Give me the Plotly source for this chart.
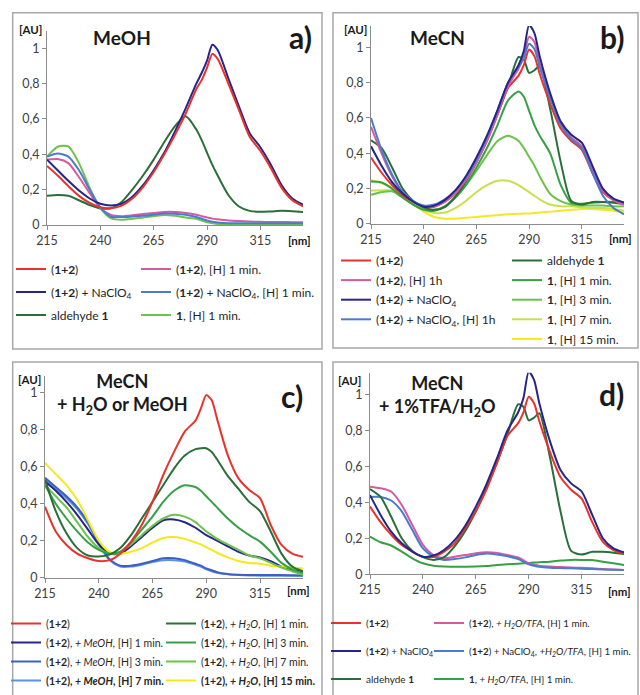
import plotly.graph_objects as go

# ---------------- data ----------------
wavelength = [215, 220, 225, 230, 235, 240, 245, 250, 255, 260, 265, 270, 275, 280,
              285, 287.5, 290, 292.5, 295, 300, 305, 310, 315, 320, 325, 330, 335]
x_ticks = [215, 240, 265, 290, 315]
y_ticks = [0, 0.2, 0.4, 0.6, 0.8, 1]
y_ticktext = ["0", "0,2", "0,4", "0,6", "0,8", "1"]

# panel a) MeOH
a_12 = [0.334, 0.28, 0.22, 0.165, 0.125, 0.1, 0.095, 0.11, 0.15, 0.215, 0.3, 0.4, 0.51, 0.63,
        0.77, 0.82, 0.89, 0.968, 0.94, 0.8, 0.65, 0.5, 0.42, 0.32, 0.21, 0.14, 0.105]
a_12_H = [0.37, 0.373, 0.35, 0.27, 0.18, 0.095, 0.057, 0.05, 0.055, 0.062, 0.068, 0.074, 0.074, 0.068,
          0.058, 0.05, 0.043, 0.036, 0.032, 0.025, 0.022, 0.02, 0.018, 0.017, 0.017, 0.016, 0.016]
a_12_Na = [0.37, 0.31, 0.25, 0.195, 0.15, 0.12, 0.11, 0.12, 0.16, 0.225, 0.31, 0.41, 0.53, 0.66,
           0.8, 0.86, 0.93, 1.02, 0.99, 0.83, 0.67, 0.52, 0.44, 0.34, 0.225, 0.15, 0.115]
a_12_Na_H = [0.387, 0.405, 0.387, 0.31, 0.2, 0.1, 0.047, 0.045, 0.048, 0.052, 0.058, 0.065, 0.064, 0.058,
             0.045, 0.035, 0.025, 0.018, 0.014, 0.01, 0.01, 0.01, 0.01, 0.01, 0.01, 0.01, 0.01]
a_ald = [0.165, 0.17, 0.165, 0.14, 0.113, 0.094, 0.095, 0.13, 0.2, 0.28, 0.37, 0.47, 0.56, 0.615,
         0.54, 0.48, 0.41, 0.34, 0.28, 0.17, 0.105, 0.08, 0.075, 0.077, 0.08, 0.078, 0.074]
a_ald_H = [0.387, 0.443, 0.445, 0.35, 0.21, 0.095, 0.038, 0.03, 0.035, 0.043, 0.05, 0.057, 0.052, 0.042,
           0.035, 0.025, 0.015, 0.01, 0.006, 0.005, 0.005, 0.005, 0.005, 0.005, 0.005, 0.005, 0.005]

# MeCN reference spectra (panels b and d)
mecn_12 = [0.376, 0.29, 0.22, 0.163, 0.126, 0.098, 0.098, 0.126, 0.172, 0.255, 0.35, 0.47, 0.62, 0.77,
           0.84, 0.9, 0.987, 0.95, 0.85, 0.68, 0.54, 0.47, 0.42, 0.29, 0.18, 0.135, 0.117]
mecn_12_Na = [0.44, 0.33, 0.237, 0.172, 0.126, 0.098, 0.104, 0.135, 0.19, 0.27, 0.376, 0.5, 0.645, 0.8,
              0.9, 0.98, 1.126, 1.08, 0.95, 0.74, 0.58, 0.505, 0.46, 0.33, 0.2, 0.144, 0.122]
mecn_ald = [0.474, 0.43, 0.32, 0.2, 0.13, 0.095, 0.08, 0.095, 0.155, 0.24, 0.35, 0.48, 0.62, 0.78,
            0.945, 0.93, 0.855, 0.87, 0.895, 0.65, 0.35, 0.13, 0.11, 0.125, 0.125, 0.12, 0.113]

# panel b) MeCN
b_12_H1h = [0.55, 0.4, 0.27, 0.18, 0.13, 0.1, 0.1, 0.125, 0.175, 0.25, 0.35, 0.47, 0.62, 0.78,
            0.88, 0.95, 1.06, 1.03, 0.91, 0.72, 0.57, 0.49, 0.44, 0.31, 0.19, 0.135, 0.11]
b_12_Na_H1h = [0.6, 0.42, 0.28, 0.18, 0.13, 0.105, 0.11, 0.14, 0.19, 0.265, 0.365, 0.49, 0.64, 0.8,
               0.89, 0.94, 1.02, 0.99, 0.89, 0.71, 0.56, 0.48, 0.43, 0.29, 0.16, 0.09, 0.055]
b_1_H1 = [0.24, 0.235, 0.2, 0.15, 0.11, 0.08, 0.075, 0.1, 0.15, 0.22, 0.32, 0.43, 0.56, 0.7,
          0.75, 0.72, 0.64, 0.56, 0.5, 0.4, 0.22, 0.12, 0.115, 0.12, 0.125, 0.125, 0.12]
b_1_H3 = [0.165, 0.18, 0.185, 0.15, 0.11, 0.085, 0.08, 0.1, 0.15, 0.22, 0.3, 0.39, 0.47, 0.5,
          0.47, 0.43, 0.38, 0.33, 0.27, 0.17, 0.13, 0.11, 0.105, 0.105, 0.105, 0.1, 0.1]
b_1_H7 = [0.19, 0.19, 0.19, 0.155, 0.11, 0.08, 0.062, 0.065, 0.09, 0.13, 0.18, 0.22, 0.245, 0.245,
          0.22, 0.2, 0.18, 0.16, 0.14, 0.11, 0.1, 0.1, 0.095, 0.09, 0.09, 0.085, 0.075]
b_1_H15 = [0.25, 0.23, 0.21, 0.18, 0.12, 0.07, 0.04, 0.03, 0.03, 0.035, 0.04, 0.045, 0.05, 0.055,
           0.058, 0.059, 0.06, 0.062, 0.065, 0.07, 0.075, 0.08, 0.085, 0.085, 0.08, 0.075, 0.065]

# panel c) MeCN + H2O or MeOH
c_12 = [0.384, 0.25, 0.177, 0.13, 0.105, 0.09, 0.095, 0.13, 0.195, 0.285, 0.41, 0.555, 0.68, 0.79,
        0.85, 0.915, 0.987, 0.96, 0.86, 0.663, 0.537, 0.474, 0.43, 0.285, 0.177, 0.13, 0.113]
c_MeOH_1 = [0.52, 0.47, 0.41, 0.34, 0.26, 0.18, 0.13, 0.13, 0.17, 0.22, 0.27, 0.31, 0.315, 0.3,
            0.27, 0.25, 0.23, 0.215, 0.2, 0.17, 0.14, 0.12, 0.11, 0.09, 0.06, 0.04, 0.035]
c_MeOH_3 = [0.54, 0.49, 0.44, 0.38, 0.3, 0.19, 0.1, 0.065, 0.065, 0.075, 0.09, 0.105, 0.105, 0.095,
            0.075, 0.065, 0.05, 0.04, 0.03, 0.02, 0.016, 0.015, 0.015, 0.015, 0.015, 0.013, 0.012]
c_MeOH_7 = [0.53, 0.48, 0.43, 0.37, 0.29, 0.18, 0.095, 0.06, 0.06, 0.07, 0.085, 0.095, 0.095, 0.088,
            0.07, 0.06, 0.045, 0.035, 0.027, 0.018, 0.014, 0.012, 0.011, 0.01, 0.01, 0.01, 0.01]
c_H2O_1 = [0.53, 0.36, 0.24, 0.16, 0.12, 0.115, 0.125, 0.16, 0.23, 0.32, 0.41, 0.5, 0.59, 0.66,
           0.695, 0.7, 0.7, 0.68, 0.64, 0.55, 0.48, 0.41, 0.36, 0.25, 0.13, 0.06, 0.035]
c_H2O_3 = [0.5, 0.4, 0.32, 0.25, 0.19, 0.15, 0.13, 0.14, 0.19, 0.26, 0.33, 0.41, 0.47, 0.5,
           0.49, 0.47, 0.44, 0.41, 0.38, 0.32, 0.27, 0.23, 0.195, 0.14, 0.08, 0.045, 0.025]
c_H2O_7 = [0.5, 0.44, 0.38, 0.3, 0.22, 0.16, 0.13, 0.14, 0.18, 0.23, 0.28, 0.32, 0.34, 0.33,
           0.3, 0.275, 0.25, 0.23, 0.21, 0.18, 0.15, 0.12, 0.105, 0.08, 0.055, 0.035, 0.015]
c_H2O_15 = [0.62, 0.56, 0.5, 0.42, 0.31, 0.2, 0.14, 0.13, 0.14, 0.16, 0.19, 0.215, 0.22, 0.21,
            0.19, 0.18, 0.165, 0.15, 0.135, 0.11, 0.09, 0.08, 0.075, 0.065, 0.06, 0.055, 0.05]

# panel d) MeCN + 1%TFA/H2O
d_12_TFA = [0.487, 0.478, 0.46, 0.385, 0.274, 0.163, 0.107, 0.089, 0.098, 0.107, 0.117, 0.122, 0.119, 0.107,
            0.093, 0.078, 0.062, 0.054, 0.048, 0.043, 0.04, 0.038, 0.036, 0.033, 0.03, 0.027, 0.024]
d_12_Na_TFA = [0.43, 0.43, 0.41, 0.35, 0.246, 0.144, 0.098, 0.08, 0.085, 0.094, 0.107, 0.115, 0.11, 0.1,
               0.085, 0.07, 0.056, 0.048, 0.042, 0.037, 0.035, 0.033, 0.031, 0.029, 0.027, 0.025, 0.024]
d_1_TFA = [0.21, 0.178, 0.16, 0.126, 0.089, 0.061, 0.048, 0.043, 0.042, 0.042, 0.043, 0.046, 0.052, 0.056,
           0.059, 0.061, 0.063, 0.065, 0.067, 0.07, 0.076, 0.08, 0.08, 0.079, 0.07, 0.061, 0.052]

# ---------------- styling ----------------
FONT = "Lato"
W, H = 640, 695
RED, PINK, NAVY, BLUE = "#e8322b", "#d65aa0", "#25258a", "#4a7bcf"
MBLUE, LBLUE = "#3d5fc0", "#5b93d8"
DKGREEN, GREEN, LGREEN, YGREEN, YELLOW = "#2a6e3a", "#36a045", "#6cc24a", "#c8e04a", "#f5e81c"


def px(x):
    return x / W


def py(y):
    return 1 - y / H


fig = go.Figure()

panels = {
    "a": dict(xa="x", ya="y", xd=(47, 303), yd=(225, 1.1, 176.7)),
    "b": dict(xa="x2", ya="y2", xd=(371, 624), yd=(224, 1.12, 176.7)),
    "c": dict(xa="x3", ya="y3", xd=(45, 303), yd=(577.7, 1.09, 185.0)),
    "d": dict(xa="x4", ya="y4", xd=(370, 624), yd=(574.3, 1.12, 180.0)),
}


def add(panel, name, values, color, legend, rank):
    p = panels[panel]
    fig.add_trace(go.Scatter(
        x=wavelength, y=values, name=name, mode="lines",
        line=dict(color=color, width=2, shape="spline", smoothing=0.7),
        xaxis=p["xa"], yaxis=p["ya"], legend=legend,
        legendgroup=f"{legend}_{rank}", legendrank=rank, hoverinfo="skip"))


B12 = "(<b>1+2</b>)"
NA = "NaClO<sub>4</sub>"
H2O = "H<sub>2</sub>O"

# a
add("a", "aldehyde <b>1</b>", a_ald, DKGREEN, "legend", 3)
add("a", "<b>1</b>, [H] 1 min.", a_ald_H, LGREEN, "legend2", 3)
add("a", B12 + ", [H] 1 min.", a_12_H, PINK, "legend2", 1)
add("a", B12 + " + " + NA + ", [H] 1 min.", a_12_Na_H, BLUE, "legend2", 2)
add("a", B12 + " + " + NA, a_12_Na, NAVY, "legend", 2)
add("a", B12, a_12, RED, "legend", 1)

# b
add("b", "<b>1</b>, [H] 15 min.", b_1_H15, YELLOW, "legend4", 5)
add("b", "<b>1</b>, [H] 7 min.", b_1_H7, YGREEN, "legend4", 4)
add("b", "<b>1</b>, [H] 3 min.", b_1_H3, LGREEN, "legend4", 3)
add("b", "<b>1</b>, [H] 1 min.", b_1_H1, GREEN, "legend4", 2)
add("b", "aldehyde <b>1</b>", mecn_ald, DKGREEN, "legend4", 1)
add("b", B12, mecn_12, RED, "legend3", 1)
add("b", B12 + ", [H] 1h", b_12_H1h, PINK, "legend3", 2)
add("b", B12 + " + " + NA + ", [H] 1h", b_12_Na_H1h, BLUE, "legend3", 4)
add("b", B12 + " + " + NA, mecn_12_Na, NAVY, "legend3", 3)

# c
add("c", "<b>(1+2), <i>+ MeOH</i>, [H] 7 min.</b>", c_MeOH_7, LBLUE, "legend5", 4)
add("c", B12 + ", <i>+ MeOH</i>, [H] 3 min.", c_MeOH_3, MBLUE, "legend5", 3)
add("c", B12 + ", <i>+ MeOH</i>, [H] 1 min.", c_MeOH_1, NAVY, "legend5", 2)
add("c", "<b>(1+2), <i>+ " + H2O + "</i>, [H] 15 min.</b>", c_H2O_15, YELLOW, "legend6", 4)
add("c", B12 + ", <i>+ " + H2O + "</i>, [H] 7 min.", c_H2O_7, LGREEN, "legend6", 3)
add("c", B12 + ", <i>+ " + H2O + "</i>, [H] 3 min.", c_H2O_3, GREEN, "legend6", 2)
add("c", B12 + ", <i>+ " + H2O + "</i>, [H] 1 min.", c_H2O_1, DKGREEN, "legend6", 1)
add("c", B12, c_12, RED, "legend5", 1)

# d
add("d", "<b>1</b>, <i>+ " + H2O + "/TFA</i>, [H] 1 min.", d_1_TFA, GREEN, "legend8", 3)
add("d", B12 + ", <i>+ " + H2O + "/TFA</i>, [H] 1 min.", d_12_TFA, PINK, "legend8", 1)
add("d", B12 + " + " + NA + ", <i>+" + H2O + "/TFA</i>, [H] 1 min.", d_12_Na_TFA, BLUE, "legend8", 2)
add("d", "aldehyde <b>1</b>", mecn_ald, DKGREEN, "legend7", 3)
add("d", B12, mecn_12, RED, "legend7", 1)
add("d", B12 + " + " + NA, mecn_12_Na, NAVY, "legend7", 2)

AXC = "#8c8c8c"
TICKFONT = dict(family=FONT, size=12.5, color="#404040")
layout = dict(
    width=W, height=H, margin=dict(l=0, r=0, t=0, b=0, autoexpand=False),
    paper_bgcolor="white", plot_bgcolor="rgba(0,0,0,0)",
    font=dict(family=FONT, size=12, color="#262626"),
    showlegend=True,
)

for i, key in enumerate(["a", "b", "c", "d"]):
    p = panels[key]
    sfx = "" if i == 0 else str(i + 1)
    x0, x1 = p["xd"]
    ybot, ymax, scale = p["yd"]
    ytop = ybot - ymax * scale
    layout["xaxis" + sfx] = dict(
        domain=[px(x0), px(x1)], range=[215, 335], anchor="y" + sfx,
        tickvals=x_ticks, ticks="outside", ticklen=4, tickcolor=AXC,
        showline=True, linecolor=AXC, linewidth=1, showgrid=False, zeroline=False,
        tickfont=TICKFONT, fixedrange=True, automargin=False)
    layout["yaxis" + sfx] = dict(
        domain=[py(ybot), py(ytop)], range=[0, ymax], anchor="x" + sfx,
        tickvals=y_ticks, ticktext=y_ticktext, ticks="outside", ticklen=4, tickcolor=AXC,
        showline=True, linecolor=AXC, linewidth=1, showgrid=False, zeroline=False,
        tickfont=TICKFONT, fixedrange=True, automargin=False)


def leg(x, y, size, gap):
    return dict(x=px(x), y=py(y), xanchor="left", yanchor="top", bgcolor="rgba(0,0,0,0)",
                font=dict(family=FONT, size=size, color="#262626"),
                traceorder="grouped", tracegroupgap=gap, borderwidth=0)


layout["legend"] = leg(11, 254.5, 12, 4)
layout["legend2"] = leg(136, 254.5, 12, 4)
layout["legend3"] = leg(336, 246, 12, 0.6)
layout["legend4"] = leg(507, 246, 12, 0.6)
layout["legend5"] = leg(6, 609, 10.5, 0)
layout["legend6"] = leg(161, 609, 10.5, 0)
layout["legend7"] = leg(326, 608.5, 10, 9)
layout["legend8"] = leg(429, 608.5, 9.8, 9)

fig.update_layout(**layout)

# panel frames
boxes = [(12.7, 12.7, 322, 349), (333, 12.7, 638, 348), (12.7, 362, 322, 699), (333, 362, 638, 699)]
for bx0, by0, bx1, by1 in boxes:
    fig.add_shape(type="rect", xref="paper", yref="paper", x0=px(bx0), x1=px(bx1),
                  y0=py(by1), y1=py(by0), line=dict(color="#a8a8a8", width=1.5),
                  fillcolor="rgba(0,0,0,0)", layer="below")


def label(x, y, text, size, bold=True, color="#1a1a1a"):
    fig.add_annotation(x=px(x), y=py(y), xref="paper", yref="paper", text=("<b>%s</b>" % text) if bold else text,
                       showarrow=False, xanchor="center", yanchor="middle", align="center",
                       font=dict(family=FONT, size=size, color=color))


label(30, 30, "[AU]", 11.5)
label(122, 38, "MeOH", 19)
label(300, 37, "a)", 30)
label(299, 240, "[nm]", 11.5)

label(355, 30, "[AU]", 11.5)
label(437, 38, "MeCN", 19)
label(612, 37, "b)", 30)
label(620, 238, "[nm]", 11.5)

label(29, 379, "[AU]", 11.5)
label(122.5, 393.5, "MeCN<br>+ H<sub>2</sub>O or MeOH", 18)
label(292, 396, "c)", 30)
label(298, 590, "[nm]", 11.5)

label(349, 381, "[AU]", 11.5)
label(437, 396, "MeCN<br>+ 1%TFA/H<sub>2</sub>O", 18)
label(611, 394, "d)", 30)
label(619, 591, "[nm]", 11.5)

fig.write_html("out.html", config={"displayModeBar": False},
               post_script="document.body.style.margin='0px';document.body.style.overflow='hidden';")
